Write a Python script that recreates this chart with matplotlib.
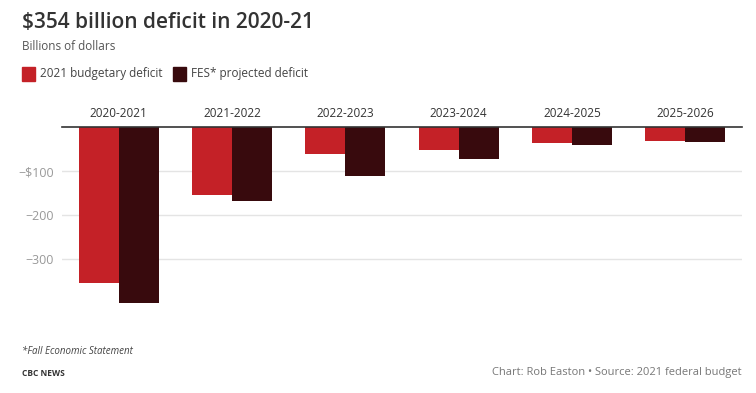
import matplotlib
matplotlib.use("Agg")
import matplotlib.pyplot as plt
import numpy as np

categories = ["2020-2021", "2021-2022", "2022-2023", "2023-2024", "2024-2025", "2025-2026"]
budget_2021 = [-354, -154, -60, -51, -36, -31]
fes_projected = [-399, -167, -111, -72, -40, -33]
series_names = ["2021 budgetary deficit", "FES* projected deficit"]
ytick_values = [-100, -200, -300]
ytick_labels = ["\u2212$100", "\u2212200", "\u2212300"]

RED = "#c42127"
DARK = "#380a0d"
plt.rcParams['font.family'] = ['Open Sans', 'DejaVu Sans']

fig = plt.figure(figsize=(7.56, 3.93), dpi=100)
ax = fig.add_axes([62/756, 1-325/393, (742-62)/756, (325-127.3)/393])

x = np.arange(len(categories))
w = 0.353
ax.bar(x - w/2, budget_2021, width=w, color=RED, zorder=3)
ax.bar(x + w/2, fes_projected, width=w, color=DARK, zorder=3)

ax.set_xlim(-0.5, len(categories) - 0.5)
ax.set_ylim(-449, 0)
ax.set_yticks(ytick_values)
ax.set_yticklabels(ytick_labels, color="#999999", fontsize=9)
ax.tick_params(axis='y', length=0, pad=6)
ax.grid(axis='y', color="#e4e4e4", linewidth=1, zorder=0)
ax.xaxis.tick_top()
ax.set_xticks(x)
ax.set_xticklabels(categories, color="#333333", fontsize=8.5)
ax.tick_params(axis='x', length=0, pad=5)
for s in ["left", "right", "bottom"]:
    ax.spines[s].set_visible(False)
ax.spines["top"].set_color("#333333")
ax.spines["top"].set_linewidth(1.2)
ax.spines["top"].set_zorder(4)

fig.text(22/756, 1-22/393, "$354 billion deficit in 2020-21", fontsize=15, fontweight='semibold',
         color="#333333", va='center', ha='left')
fig.text(22/756, 1-46/393, "Billions of dollars", fontsize=8.5, color="#555555", va='center', ha='left')

# legend
fig.patches.append(plt.Rectangle((22/756, 1-81/393), 13/756, 14/393, transform=fig.transFigure,
                                 color=RED, figure=fig))
fig.text(40/756, 1-74/393, series_names[0], fontsize=8.5, color="#444444", va='center', ha='left')
fig.patches.append(plt.Rectangle((173/756, 1-81/393), 13/756, 14/393, transform=fig.transFigure,
                                 color=DARK, figure=fig))
fig.text(191/756, 1-74/393, series_names[1], fontsize=8.5, color="#444444", va='center', ha='left')

fig.text(22/756, 1-352/393, "*Fall Economic Statement", fontsize=7, style='italic', color="#444444",
         va='center', ha='left')
fig.text(22/756, 1-373/393, "CBC NEWS", fontsize=6, fontweight='bold', color="#333333",
         va='center', ha='left')
fig.text(742/756, 1-373/393, "Chart: Rob Easton \u2022 Source: 2021 federal budget", fontsize=8,
         color="#777777", va='center', ha='right')

fig.savefig("out.png", dpi=100)
